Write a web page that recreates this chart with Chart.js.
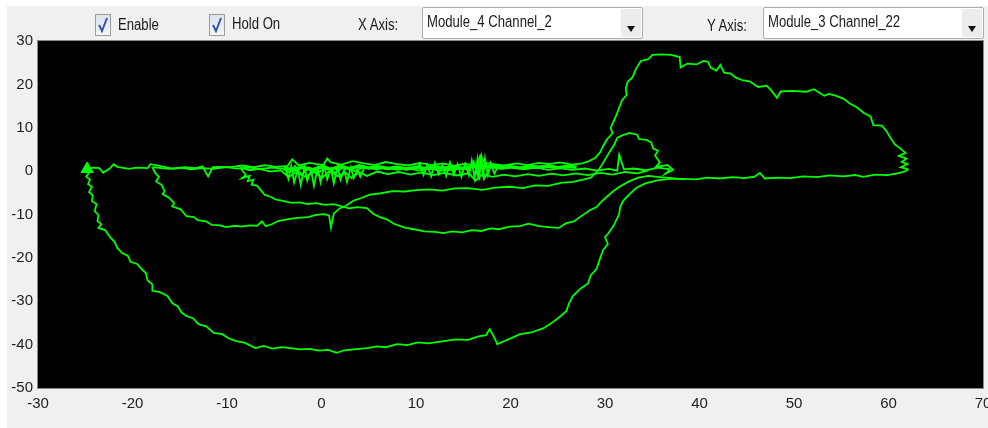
<!doctype html>
<html lang="en">
  <head>
    <meta charset="utf-8">
    <title>XY plot</title>
    <script src="https://cdn.jsdelivr.net/npm/chart.js"></script>
    <style>
      html, body {
        margin: 0;
        padding: 0;
        width: 988px;
        height: 428px;
        overflow: hidden;
        background: #ffffff;
        font-family: 'Liberation Sans', Arial, sans-serif;
      }
      .panel {
        position: absolute;
        left: 7px; top: 6px; right: 0; bottom: 0;
        background: #f0f0f0;
      }
      .chart-box {
        position: absolute;
        left: 0; top: 0;
        width: 999px; height: 428px;
      }
      .tb {
        position: absolute;
        font-size: 16px;
        line-height: 16px;
        color: #1a1a1a;
        white-space: nowrap;
        transform: scaleX(0.82);
        transform-origin: left top;
      }
      .check {
        position: absolute;
        top: 14px;
        width: 14px; height: 20px;
        border: 1px solid #9c9c9c;
        background: linear-gradient(#dde3ea, #f4f6f8);
      }
      .check svg { position: absolute; left: 1px; top: 2px; }
      .combo {
        position: absolute;
        top: 7px;
        width: 219px; height: 30px;
        border: 1px solid #acacac;
        border-radius: 2px;
        background: #ffffff;
      }
      .combo .txt {
        position: absolute;
        left: 4px; top: 6px;
        font-size: 16px;
        line-height: 16px;
        color: #1a1a1a;
        white-space: nowrap;
        transform: scaleX(0.82);
        transform-origin: left top;
      }
      .combo .btn {
        position: absolute;
        right: 1px; top: 1px;
        width: 20px; height: 28px;
        background: #ececec;
      }
      .combo .btn::after {
        content: '';
        position: absolute;
        left: 6px; top: 17px;
        border-left: 4px solid transparent;
        border-right: 4px solid transparent;
        border-top: 6px solid #111;
      }
    </style>
  </head>
  <body>
    <div class="panel"></div>
    <div class="chart-box"><canvas id="xyChart" width="999" height="428"></canvas></div>

    <div class="check" style="left:95px"><svg width="12" height="16" viewBox="0 0 12 16"><path d="M2 8 L5 14 L10 1" fill="none" stroke="#3653b0" stroke-width="2"/></svg></div>
    <div class="tb" style="left:118px; top:17px">Enable</div>
    <div class="check" style="left:209px"><svg width="12" height="16" viewBox="0 0 12 16"><path d="M2 8 L5 14 L10 1" fill="none" stroke="#3653b0" stroke-width="2"/></svg></div>
    <div class="tb" style="left:232px; top:16px">Hold On</div>
    <div class="tb" style="left:358px; top:17px">X Axis:</div>
    <div class="combo" style="left:422px"><span class="txt">Module_4 Channel_2</span><span class="btn"></span></div>
    <div class="tb" style="left:707px; top:18px">Y Axis:</div>
    <div class="combo" style="left:763px"><span class="txt">Module_3 Channel_22</span><span class="btn"></span></div>

    <script>
      // axis ticks
      const xTickValues = [-30, -20, -10, 0, 10, 20, 30, 40, 50, 60, 70];
      const yTickValues = [-50, -40, -30, -20, -10, 0, 10, 20, 30];

      // trace, [x, y] pairs, split into passes
      const outerLoop = [[-25.0,0.4],[-24.6,-0.4],[-24.9,-1.2],[-24.5,-2.0],[-24.7,-3.0],[-24.3,-3.6],[-24.6,-4.8],[-24.2,-5.6],[-24.3,-6.9],[-23.8,-7.6],[-24.0,-9.2],[-23.6,-10.1],[-23.7,-11.5],[-23.3,-12.2],[-23.6,-13.1],[-22.9,-13.6],[-22.3,-15.4],[-21.9,-16.3],[-21.6,-17.7],[-21.1,-18.9],[-20.5,-19.5],[-20.2,-20.9],[-19.5,-21.4],[-19.1,-22.4],[-18.6,-23.5],[-18.4,-25.2],[-17.9,-26.1],[-17.9,-27.6],[-17.1,-27.9],[-16.3,-28.8],[-15.8,-30.4],[-15.2,-31.2],[-14.8,-32.6],[-14.3,-33.4],[-13.6,-33.9],[-13.0,-35.3],[-12.2,-35.8],[-11.4,-37.3],[-10.5,-37.6],[-9.8,-38.6],[-9.0,-39.2],[-8.1,-39.6],[-7.0,-40.8],[-6.1,-40.3],[-5.2,-40.9],[-4.2,-40.6],[-3.3,-40.8],[-2.3,-41.1],[-1.2,-41.0],[-0.3,-41.4],[0.7,-41.2],[1.6,-41.9],[2.4,-41.3],[3.4,-41.1],[4.8,-40.8],[5.9,-40.4],[6.8,-40.6],[8.0,-39.9],[9.1,-40.1],[10.2,-39.5],[11.3,-39.7],[12.9,-39.2],[14.2,-38.8],[15.5,-38.9],[16.6,-38.1],[17.4,-37.8],[17.8,-36.4],[18.3,-38.4],[18.6,-39.9],[19.4,-39.1],[20.1,-38.5],[21.0,-37.6],[22.2,-37.2],[23.5,-36.2],[24.3,-35.1],[25.1,-33.8],[25.9,-32.3],[26.2,-30.5],[26.6,-28.8],[27.4,-27.1],[28.2,-25.9],[28.5,-24.0],[29.1,-22.6],[29.5,-20.0],[29.8,-18.2],[30.3,-16.8],[30.0,-15.2],[30.3,-14.5],[30.9,-12.6],[31.5,-9.9],[31.6,-8.4],[31.9,-6.9],[32.6,-5.3],[33.3,-3.9],[34.2,-2.9],[35.4,-2.2],[36.8,-1.8],[38.2,-1.8],[39.6,-1.9],[40.8,-1.5],[42.1,-1.7],[43.5,-1.4],[44.7,-1.6],[45.8,-1.3],[46.4,-0.4],[46.9,-1.7],[48.3,-1.5],[49.6,-1.6],[51.0,-1.2],[52.4,-1.4],[53.8,-1.0],[55.2,-1.2],[56.5,-0.9],[57.3,-1.3],[58.6,-0.8],[59.9,-0.9],[60.8,-0.6],[61.6,-0.2],[62.1,0.4]];

      const upperLobe = [[62.1,0.4],[61.3,0.9],[62.0,1.6],[61.4,2.1],[61.9,2.9],[61.1,3.5],[61.8,4.2],[61.2,5.3],[60.7,6.1],[60.2,7.7],[59.8,9.2],[59.3,10.5],[58.4,10.6],[58.1,12.6],[57.4,13.4],[56.6,14.8],[55.9,15.6],[55.3,16.6],[54.4,17.4],[53.7,17.8],[53.2,17.4],[52.1,18.9],[51.3,18.3],[49.8,18.5],[48.6,18.4],[48.2,16.9],[47.6,18.6],[47.1,19.7],[46.2,19.4],[45.3,20.7],[44.6,20.9],[43.8,21.6],[43.3,22.5],[42.6,22.7],[42.2,24.5],[41.8,23.2],[41.2,23.8],[40.9,25.2],[40.4,25.4],[39.7,24.6],[38.7,24.8],[38.0,23.9],[37.9,26.3],[37.0,26.8],[35.9,26.9],[35.0,26.8],[34.6,25.8],[33.8,25.4],[33.3,23.7],[32.9,21.6],[32.4,20.6],[32.2,19.1],[32.3,17.6],[31.8,16.3],[31.5,14.6],[31.2,12.9],[30.9,11.4],[30.6,10.0],[30.8,8.7],[30.2,7.3],[29.8,5.8],[29.5,4.4],[29.0,3.1],[28.3,2.3],[27.6,1.8]];

      const bandTop = [[27.6,1.8],[26.5,1.5],[25.2,2.0],[24.1,1.6],[23.0,1.9],[21.8,1.4],[20.6,1.8],[19.3,1.3],[18.2,1.6],[17.3,1.9],[16.8,3.6],[16.4,1.1],[15.2,1.7],[14.0,1.2],[12.9,1.8],[11.6,1.4],[10.4,1.9],[9.2,1.3],[8.0,1.6],[6.8,2.1],[5.6,1.4],[4.5,1.8],[3.3,2.3],[2.1,1.5],[1.0,2.0],[0.6,2.9],[0.2,1.4],[-1.3,1.9],[-2.4,1.3],[-3.1,2.7],[-3.6,1.2],[-4.8,1.0],[-6.0,1.4],[-7.2,0.9],[-8.4,1.3],[-9.6,0.9],[-10.8,1.0],[-11.5,0.9],[-12.0,-1.2],[-12.6,1.1],[-13.3,0.7],[-14.5,0.9],[-15.7,0.5],[-16.9,1.1],[-18.1,1.6],[-18.4,0.7],[-19.6,0.8],[-20.4,0.5],[-21.6,1.0],[-22.0,1.6],[-22.4,0.6],[-23.1,-0.4],[-23.5,0.7],[-24.2,0.8],[-25.0,0.4]];

      const innerLoop = [[28.5,-1.5],[29.3,0.2],[29.8,1.9],[30.2,3.4],[30.6,4.8],[31.0,6.2],[31.3,7.7],[31.9,8.3],[32.6,8.8],[33.4,8.4],[33.6,7.4],[34.4,7.2],[34.9,6.6],[35.1,5.2],[35.6,4.7],[35.3,3.6],[35.8,2.0],[35.4,1.0],[36.6,1.4],[37.2,0.3],[36.4,-0.6],[36.9,0.4]];

      const bandMid = [[36.9,0.4],[35.6,0.8],[34.3,0.2],[33.0,0.6],[32.0,0.4],[31.5,3.8],[31.3,0.1],[30.4,0.5],[29.1,0.1],[27.9,0.6],[26.5,0.3],[25.2,0.7],[24.0,0.3],[22.7,0.8],[21.4,0.4],[20.2,0.9],[19.0,0.5],[17.9,0.9],[17.2,-1.8],[16.9,3.4],[16.5,-0.9],[16.1,2.2],[15.6,0.2],[15.0,0.8],[13.8,0.3],[12.6,0.1],[11.4,0.6],[10.3,0.1],[9.1,0.7],[8.0,0.3],[6.9,0.8],[5.8,0.4],[4.6,1.0],[3.5,0.0],[2.4,0.9],[1.4,-0.3],[0.5,1.0],[-0.5,-0.6],[-1.3,0.9],[-2.1,-0.9],[-2.8,1.2],[-3.4,-0.3],[-4.1,0.6],[-5.3,0.8],[-6.5,0.5],[-7.7,0.8],[-8.9,0.6],[-10.1,0.9],[-11.4,0.5],[-12.6,0.7],[-13.8,0.4],[-15.0,0.8],[-16.2,0.5],[-17.9,0.9]];

      const leftLoop = [[-17.9,0.9],[-17.6,-0.4],[-17.2,-1.3],[-17.5,-2.4],[-16.9,-3.2],[-16.6,-4.6],[-16.8,-5.3],[-16.1,-6.2],[-15.6,-7.4],[-15.8,-8.1],[-14.9,-8.8],[-14.3,-10.4],[-13.5,-10.6],[-13.1,-11.3],[-12.2,-11.6],[-11.6,-12.4],[-10.7,-12.5],[-10.1,-12.9],[-9.2,-12.6],[-8.5,-12.8],[-7.6,-12.5],[-6.8,-12.6],[-6.3,-11.6],[-5.9,-12.7],[-5.2,-12.2],[-4.6,-11.5],[-3.8,-11.2],[-3.0,-10.9],[-2.2,-10.7],[-1.4,-10.6],[-0.6,-10.1],[0.3,-9.9],[0.8,-10.2],[1.0,-13.0],[1.3,-9.8],[1.9,-8.6],[2.5,-8.1],[3.4,-6.8],[4.2,-6.2],[5.1,-5.4],[6.3,-5.1],[7.5,-4.6],[8.8,-4.7],[10.0,-4.4],[11.4,-4.2],[12.8,-4.5],[14.1,-4.0],[15.5,-3.9],[17.0,-4.3],[18.4,-3.8],[19.9,-3.6],[21.3,-3.9],[22.6,-3.3],[24.0,-3.4],[25.3,-2.7],[26.6,-2.5],[27.8,-1.9],[28.5,-1.5]];

      const bandLow = [[34.6,0.2],[33.4,-0.5],[32.1,-0.2],[30.8,-0.8],[29.5,-0.4],[28.2,-0.9],[26.9,-0.5],[25.6,-1.0],[24.3,-0.6],[23.0,-1.1],[21.8,-0.7],[20.5,-1.2],[19.3,-0.8],[18.1,-1.3],[17.0,-0.7],[16.3,-2.2],[15.6,-0.5],[14.3,-1.0],[13.0,-0.4],[11.8,-0.9],[10.6,-0.3],[9.4,-0.8],[8.2,-0.2],[7.0,-0.7],[5.9,-0.1],[4.8,-1.1],[4.0,-0.2],[3.2,-1.6],[2.5,-0.3],[1.7,-1.2],[0.9,0.1],[0.1,-1.5],[-0.8,-0.2],[-1.7,-1.3],[-2.6,-0.1],[-3.5,-1.4],[-4.3,0.2],[-5.4,-0.1],[-6.6,0.5],[-7.6,0.2],[-8.6,0.8]];

      const rightLoop = [[-8.6,0.8],[-8.0,-0.9],[-8.4,-1.6],[-7.6,-1.1],[-7.8,-2.3],[-7.2,-2.0],[-7.4,-3.1],[-6.8,-3.4],[-6.5,-4.2],[-6.0,-5.5],[-5.4,-5.9],[-4.8,-6.6],[-4.0,-6.9],[-3.1,-7.3],[-2.3,-7.2],[-1.5,-7.6],[-0.6,-7.4],[0.4,-7.8],[1.3,-7.6],[2.1,-8.1],[2.9,-8.6],[3.8,-8.3],[4.8,-8.5],[5.5,-9.9],[6.2,-10.6],[6.9,-11.1],[7.7,-12.2],[8.9,-13.1],[9.8,-13.4],[10.9,-13.9],[12.0,-14.0],[12.9,-14.3],[13.8,-13.9],[14.9,-14.1],[15.9,-13.6],[16.9,-13.8],[17.9,-13.2],[18.8,-13.4],[19.9,-12.8],[21.0,-12.7],[21.9,-12.1],[22.9,-12.6],[24.0,-12.9],[25.1,-13.1],[25.9,-12.0],[26.7,-11.6],[27.6,-10.2],[28.4,-9.0],[29.1,-8.3],[29.6,-7.1],[30.2,-5.9],[30.9,-4.6],[31.7,-3.4],[32.6,-2.3],[33.5,-1.5],[34.6,-1.1],[35.8,-1.4],[37.1,-1.6],[38.4,-1.9]];

      // dense core of the band, drawn wider
      const bandCore = [[27.0,0.9],[26.0,1.1],[25.0,0.8],[24.0,1.2],[23.0,0.9],[22.0,1.1],[21.0,0.7],[20.0,1.0],[19.0,0.8],[18.0,1.2],[17.0,0.9],[16.0,1.1],[15.0,0.6],[14.0,0.9],[13.0,0.7],[12.0,1.0],[11.0,0.6],[10.0,0.9],[9.0,0.5],[8.0,0.9],[7.0,0.6],[6.0,1.0],[5.0,0.7],[4.0,1.2],[3.0,0.5],[2.0,1.1],[1.0,0.4],[0.0,1.0],[-1.0,0.3],[-2.0,0.9],[-3.0,0.2],[-4.0,0.8]];

      const bandBlob = [[-3.8,0.6],[-3.5,-1.8],[-3.2,1.2],[-2.9,-2.6],[-2.5,0.4],[-2.2,-3.2],[-1.8,1.0],[-1.5,-2.2],[-1.1,0.2],[-0.8,-3.4],[-0.4,0.8],[-0.1,-2.6],[0.3,1.3],[0.6,-1.9],[1.0,0.5],[1.3,-2.8],[1.7,1.1],[2.0,-2.0],[2.4,0.3],[2.7,-2.5],[3.1,0.9],[3.4,-1.6],[3.8,0.4],[4.1,-1.3],[4.5,0.6]];

      const bandHatch = [[10.0,0.4],[10.4,1.8],[10.8,-0.9],[11.2,1.5],[11.6,-1.2],[12.0,1.9],[12.4,-0.7],[12.8,1.4],[13.2,-1.1],[13.6,2.0],[14.0,-0.8],[14.4,1.6],[14.8,-1.3],[15.2,1.7],[15.6,-1.0],[15.9,2.4],[16.2,-1.6],[16.5,2.7],[16.7,-2.1],[16.9,3.7],[17.1,-1.4],[17.3,2.9],[17.6,-0.9],[17.9,1.9],[18.3,-0.6],[18.7,1.2]];

      const markerPoint = [[-24.8, 0.5]];

      const traceColor = '#00ff00';
      const tickColor = '#1e1e1e';
      const tickFont = { family: "'Liberation Sans', Arial, sans-serif", size: 15 };

      const toPoints = arr => arr.map(p => ({ x: p[0], y: p[1] }));
      const traceSet = (seg, width) => ({
        data: toPoints(seg),
        showLine: true,
        borderColor: traceColor,
        borderWidth: width,
        pointRadius: 0,
        tension: 0
      });

      const passes = [outerLoop, upperLobe, bandTop, innerLoop, bandMid, leftLoop, bandLow, rightLoop, bandBlob, bandHatch];
      const datasets = passes.map(seg => traceSet(seg, 1.8));
      datasets.push(traceSet(bandCore, 3.5));
      datasets.push({
        data: toPoints(markerPoint),
        showLine: false,
        pointStyle: 'triangle',
        pointRadius: 7,
        backgroundColor: traceColor,
        borderColor: traceColor,
        borderWidth: 1
      });

      const plotFrame = {
        id: 'plotFrame',
        beforeDatasetsDraw(chart) {
          const { ctx, chartArea: a } = chart;
          ctx.save();
          ctx.fillStyle = '#000000';
          ctx.fillRect(a.left, a.top, a.width, a.height);
          ctx.restore();
        },
        afterDraw(chart) {
          const { ctx, chartArea: a } = chart;
          ctx.save();
          ctx.strokeStyle = '#8a8a8a';
          ctx.lineWidth = 1;
          ctx.strokeRect(a.left - 0.5, a.top - 0.5, a.width + 1, a.height + 1);
          ctx.restore();
        }
      };

      new Chart(document.getElementById('xyChart'), {
        type: 'scatter',
        data: { datasets },
        options: {
          responsive: false,
          animation: false,
          layout: { padding: { top: 41, right: 16, bottom: 0, left: 0 } },
          plugins: { legend: { display: false }, tooltip: { enabled: false } },
          scales: {
            x: {
              type: 'linear',
              min: -30, max: 70,
              afterBuildTicks: s => { s.ticks = xTickValues.map(v => ({ value: v })); },
              afterFit: s => { s.height = 40; },
              grid: { display: false, drawTicks: false },
              border: { display: false },
              ticks: { color: tickColor, font: tickFont, padding: 7, maxRotation: 0, autoSkip: false }
            },
            y: {
              type: 'linear',
              min: -50, max: 30,
              afterBuildTicks: s => { s.ticks = yTickValues.map(v => ({ value: v })); },
              afterFit: s => { s.width = 38; },
              grid: { display: false, drawTicks: false },
              border: { display: false },
              ticks: { color: tickColor, font: tickFont, padding: 5, autoSkip: false }
            }
          }
        },
        plugins: [plotFrame]
      });
    </script>
  </body>
</html>
